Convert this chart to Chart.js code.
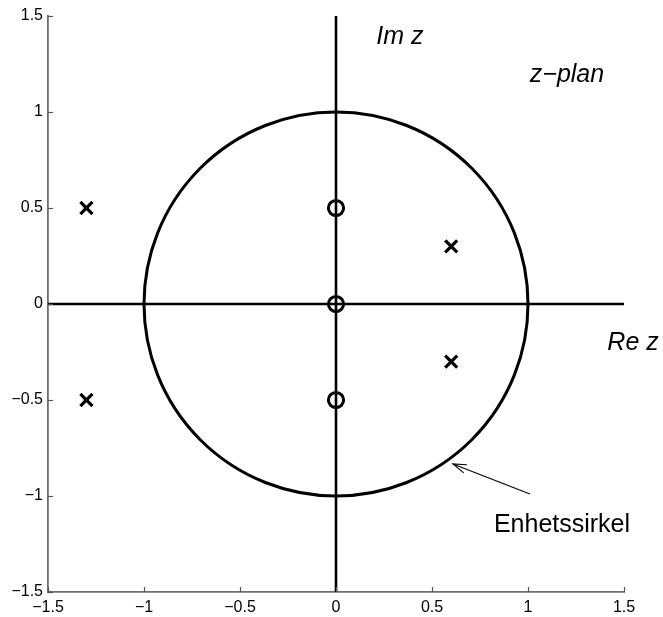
<!DOCTYPE html>
<html>
<head>
<meta charset="utf-8">
<script src="https://cdn.jsdelivr.net/npm/chart.js@4/dist/chart.umd.min.js"></script>
<style>
html,body{margin:0;padding:0;background:#fff;}
#wrap{width:663px;height:617px;}
</style>
</head>
<body>
<div id="wrap"><canvas id="c" width="663" height="617"></canvas></div>
<script>
// Data
const tickValues = [-1.5, -1, -0.5, 0, 0.5, 1, 1.5];
const zerosRe = [0, 0, 0];
const zerosIm = [0.5, 0, -0.5];
const polesRe = [-1.3, -1.3, 0.6, 0.6];
const polesIm = [0.5, -0.5, 0.3, -0.3];
const realAxisRe = [-1.5, 1.5];
const realAxisIm = [0, 0];
const imagAxisRe = [0, 0];
const imagAxisIm = [-1.5, 1.5];
const unitCircleCenter = [0, 0];
const unitCircleRadius = 1;
const labelTexts = ['Im z', 'z\u2212plan', 'Re z', 'Enhetssirkel'];

const toPts = (xs, ys) => xs.map((x, i) => ({x: x, y: ys[i]}));
const fmt = v => (v < 0 ? '\u2212' : '') + Math.abs(v);
const FONT = '"Liberation Sans", Arial, Helvetica, sans-serif';

// annotation placement (style only)
const annots = [
  {t: labelTexts[0], x: 0.333, y: 1.39, italic: true},
  {t: labelTexts[1], x: 1.203, y: 1.193, italic: true},
  {t: labelTexts[2], x: 1.547, y: -0.203, italic: true},
  {t: labelTexts[3], x: 1.177, y: -1.151, italic: false}
];
const arrow = {x0: 1.010, y0: -0.990, x1: 0.609, y1: -0.833};

const overlay = {
  id: 'overlay',
  beforeDatasetsDraw(chart) {
    const ctx = chart.ctx, xs = chart.scales.x, ys = chart.scales.y;
    const cx = xs.getPixelForValue(unitCircleCenter[0]);
    const cy = ys.getPixelForValue(unitCircleCenter[1]);
    const r = xs.getPixelForValue(unitCircleCenter[0] + unitCircleRadius) - cx;
    ctx.save();
    ctx.strokeStyle = '#000';
    ctx.lineWidth = 3;
    ctx.beginPath();
    ctx.arc(cx, cy, r, 0, Math.PI * 2);
    ctx.stroke();
    ctx.restore();
  },
  afterDraw(chart) {
    const ctx = chart.ctx, xs = chart.scales.x, ys = chart.scales.y;
    const a = chart.chartArea;
    ctx.save();
    // inward ticks
    ctx.strokeStyle = '#555';
    ctx.lineWidth = 1.2;
    tickValues.forEach(v => {
      const px = Math.round(xs.getPixelForValue(v)) + 0.5;
      ctx.beginPath(); ctx.moveTo(px, a.bottom); ctx.lineTo(px, a.bottom - 5); ctx.stroke();
      const py = Math.round(ys.getPixelForValue(v)) + 0.5;
      ctx.beginPath(); ctx.moveTo(a.left, py); ctx.lineTo(a.left + 5, py); ctx.stroke();
    });
    // text annotations
    ctx.fillStyle = '#000';
    ctx.textAlign = 'center';
    ctx.textBaseline = 'middle';
    annots.forEach(o => {
      ctx.font = (o.italic ? 'italic ' : '') + '25px ' + FONT;
      ctx.fillText(o.t, xs.getPixelForValue(o.x), ys.getPixelForValue(o.y));
    });
    // arrow
    const x0 = xs.getPixelForValue(arrow.x0), y0 = ys.getPixelForValue(arrow.y0);
    const x1 = xs.getPixelForValue(arrow.x1), y1 = ys.getPixelForValue(arrow.y1);
    ctx.strokeStyle = '#000';
    ctx.lineWidth = 1.1;
    ctx.beginPath(); ctx.moveTo(x0, y0); ctx.lineTo(x1, y1); ctx.stroke();
    const ang = Math.atan2(y0 - y1, x0 - x1);
    const L = 14, w = 0.32;
    ctx.beginPath();
    ctx.moveTo(x1 + L * Math.cos(ang + w), y1 + L * Math.sin(ang + w));
    ctx.lineTo(x1, y1);
    ctx.lineTo(x1 + L * Math.cos(ang - w), y1 + L * Math.sin(ang - w));
    ctx.stroke();
    ctx.restore();
  }
};

new Chart(document.getElementById('c'), {
  type: 'scatter',
  data: {
    datasets: [
      {data: toPts(realAxisRe, realAxisIm), showLine: true, borderColor: '#000', borderWidth: 2.6, pointRadius: 0},
      {data: toPts(imagAxisRe, imagAxisIm), showLine: true, borderColor: '#000', borderWidth: 2.6, pointRadius: 0},
      {data: toPts(zerosRe, zerosIm), pointStyle: 'circle', pointRadius: 7.6, pointBorderWidth: 3,
       borderColor: '#000', backgroundColor: 'rgba(0,0,0,0)', pointBackgroundColor: 'rgba(0,0,0,0)'},
      {data: toPts(polesRe, polesIm), pointStyle: 'crossRot', pointRadius: 8.5, pointBorderWidth: 3.2,
       borderColor: '#000', backgroundColor: '#000'}
    ]
  },
  options: {
    responsive: false,
    animation: false,
    events: [],
    layout: {padding: {top: 16, right: 39, left: 0, bottom: 0}},
    plugins: {legend: {display: false}, tooltip: {enabled: false}},
    scales: {
      x: {
        type: 'linear', min: -1.5, max: 1.5,
        afterBuildTicks: s => { s.ticks = tickValues.map(v => ({value: v})); },
        afterFit: s => { s.height = 25; },
        grid: {display: false, drawTicks: false},
        border: {display: true, color: '#6e6e6e', width: 1.8},
        ticks: {callback: fmt, color: '#000', padding: 6, maxRotation: 0, autoSkip: false,
                font: {family: FONT, size: 16}}
      },
      y: {
        type: 'linear', min: -1.5, max: 1.5,
        afterBuildTicks: s => { s.ticks = tickValues.map(v => ({value: v})); },
        afterFit: s => { s.width = 48; },
        grid: {display: false, drawTicks: false},
        border: {display: true, color: '#6e6e6e', width: 1.8},
        ticks: {callback: fmt, color: '#000', padding: 5, autoSkip: false,
                font: {family: FONT, size: 16}}
      }
    }
  },
  plugins: [overlay]
});
</script>
</body>
</html>
